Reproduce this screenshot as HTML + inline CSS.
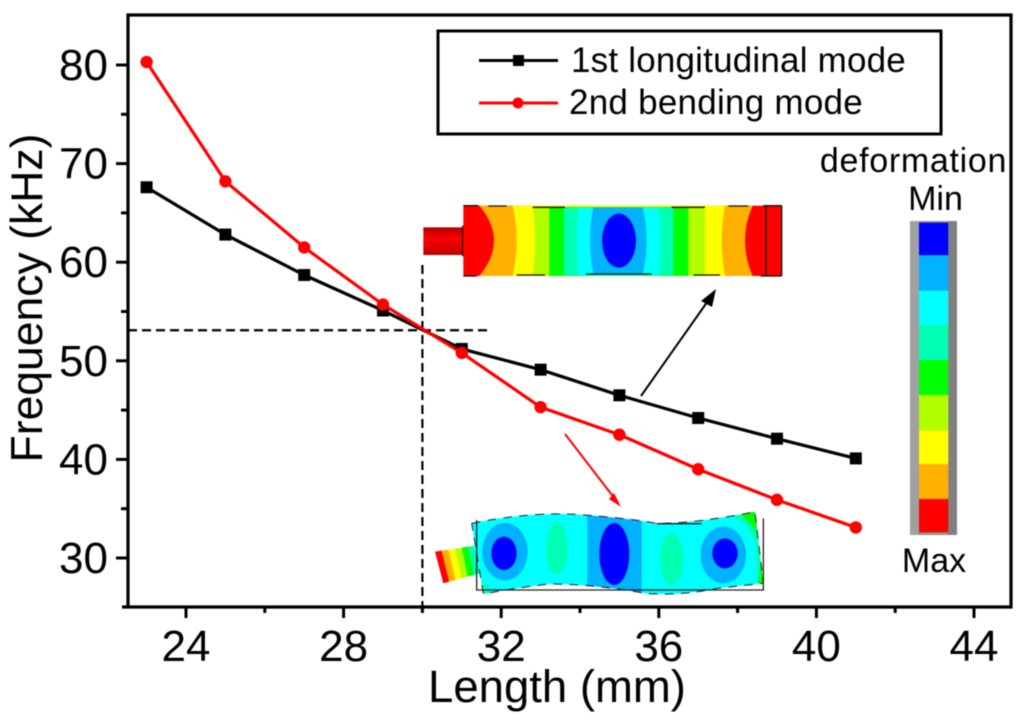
<!DOCTYPE html>
<html lang="en">
<head>
<meta charset="utf-8">
<title>Frequency vs Length</title>
<style>
html,body{margin:0;padding:0;background:#fff;width:1024px;height:725px;overflow:hidden}
svg{display:block;filter:blur(.5px)}
text{font-family:"Liberation Sans",sans-serif;fill:#000}
</style>
</head>
<body>
<svg id="chart" width="1024" height="725" viewBox="0 0 1024 725" xmlns="http://www.w3.org/2000/svg">
  <rect width="1024" height="725" fill="#fff"/>
  <defs>
    <clipPath id="bendClip">
      <path d="M125 55Q300 20 440 28Q600 40 680 55Q800 55 975 20L1000 235L860 250Q760 272 650 266Q500 238 360 237Q260 248 160 267Z"/>
    </clipPath>
    <linearGradient id="stubGrad" x1="0" y1="0" x2="0" y2="1">
      <stop offset="0" stop-color="#a00"/><stop offset=".4" stop-color="#f00"/><stop offset="1" stop-color="#b00"/>
    </linearGradient>
  </defs>

  <g id="longitudinal-inset" transform="translate(420 195) scale(.33333)">
    <rect x="10" y="97" width="120" height="83" fill="url(#stubGrad)"/>
    <rect x="126" y="92" width="5" height="92" fill="#222"/>
    <rect x="130" y="32" width="955" height="211" fill="#f00"/>
    <path fill="#ffb000" d="M178 32Q266 137 178 243L998 243Q952 137 998 32Z"/>
    <path fill="#ff0" d="M278 32Q302 137 278 243L915 243Q895 137 915 32Z"/>
    <path fill="#b2ff00" d="M338 36Q352 137 338 243L855 243Q855 137 855 36Z"/>
    <rect x="388" y="36" width="417" height="207" fill="#0f0"/>
    <rect x="432" y="38" width="328" height="203" fill="#00ffb2"/>
    <path fill="#0ff" d="M475 38Q465 137 475 241L715 241Q729 137 715 38Z"/>
    <path fill="#00b2ff" d="M520 38Q500 137 520 237L668 237Q692 137 668 38Z"/>
    <ellipse cx="597" cy="137" rx="51" ry="81" fill="#00f"/>
    <path fill="none" stroke="#111" stroke-width="4" d="M130 32H175M205 33H260M338 37H435M755 37H855M925 33H985M130 243H170M290 240H375M498 237H695M820 240H900M1022 243H1085M1085 32V243M1030 32H1085M1038 32V243"/>
  </g>

  <g id="bending-inset" transform="translate(430 505) scale(.33333)">
    <polygon fill="#f00" points="15,140 35,137 58,230 40,235"/>
    <polygon fill="#ffb000" points="35,137 55,134 77,225 58,230"/>
    <polygon fill="#ff0" points="55,134 75,131 95,220 77,225"/>
    <polygon fill="#b2ff00" points="75,131 95,128 113,215 95,220"/>
    <polygon fill="#0f0" points="95,128 115,125 132,210 113,215"/>
    <polygon fill="#00ffb2" points="115,125 135,122 150,205 132,210"/>
    <g clip-path="url(#bendClip)">
      <rect x="100" y="0" width="920" height="290" fill="#0ff"/>
      <polygon fill="#00ffb2" points="880,20 1010,10 1010,240 985,240 975,110 950,60"/>
      <polygon fill="#0f0" points="935,30 1000,10 1005,240 985,235 995,140 975,70"/>
      <polygon fill="#00ffb2" points="120,200 200,270 120,280"/>
      <ellipse cx="225" cy="140" rx="68" ry="86" fill="#00b2ff"/>
      <ellipse cx="222" cy="145" rx="38" ry="50" fill="#00f"/>
      <rect x="472" y="0" width="163" height="290" fill="#00b2ff"/>
      <ellipse cx="553" cy="147" rx="45" ry="93" fill="#00f"/>
      <ellipse cx="880" cy="150" rx="68" ry="85" fill="#00b2ff"/>
      <ellipse cx="885" cy="145" rx="38" ry="45" fill="#00f"/>
      <ellipse cx="380" cy="130" rx="32" ry="78" fill="#00ffb2"/>
      <ellipse cx="725" cy="163" rx="35" ry="78" fill="#00ffb2"/>
    </g>
    <path fill="none" stroke="#222" stroke-width="3" stroke-dasharray="26 22" d="M125 55Q300 20 440 28Q600 40 680 55Q800 55 975 20L1000 235L860 250Q760 272 650 266Q500 238 360 237Q260 248 160 267L125 55"/>
    <path fill="none" stroke="#222" stroke-width="4" d="M140 45V255H1000V40M680 56H815"/>
  </g>

  <g id="color-scale">
    <rect x="910" y="221" width="47" height="314" fill="#909090"/>
    <rect x="910" y="221" width="9" height="314" fill="#a0a0a0"/>
    <rect x="948" y="221" width="9" height="314" fill="#808080"/>
    <rect x="919" y="222.7" width="29.3" height="32.6" fill="#00f"/>
    <rect x="919" y="255.3" width="29.3" height="35.4" fill="#00b2ff"/>
    <rect x="919" y="290.7" width="29.3" height="34.3" fill="#0ff"/>
    <rect x="919" y="325" width="29.3" height="35" fill="#00ffb2"/>
    <rect x="919" y="360" width="29.3" height="35" fill="#0f0"/>
    <rect x="919" y="395" width="29.3" height="35.3" fill="#b2ff00"/>
    <rect x="919" y="430.3" width="29.3" height="34" fill="#ff0"/>
    <rect x="919" y="464.3" width="29.3" height="34.7" fill="#ffb000"/>
    <rect x="919" y="499" width="29.3" height="33.3" fill="#f00"/>
    <text x="913.5" y="172" font-size="34" letter-spacing=".7" text-anchor="middle">deformation</text>
    <text x="935.5" y="210" font-size="34" text-anchor="middle">Min</text>
    <text x="934" y="572" font-size="34" text-anchor="middle">Max</text>
  </g>

  <g id="axes"></g>
  <g id="series"></g>

  <g id="arrows">
    <line x1="641" y1="396" x2="710" y2="298" stroke="#000" stroke-width="2"/>
    <polygon fill="#000" points="716,289 712,307 701,301"/>
    <line x1="565" y1="434" x2="615" y2="499" stroke="#f00" stroke-width="2"/>
    <polygon fill="#f00" points="621,507 609,499 614,493"/>
  </g>

  <g id="legend">
    <rect x="438" y="31" width="503" height="103" fill="none" stroke="#000" stroke-width="3"/>
    <g>
      <line x1="479" y1="60.5" x2="558" y2="60.5" stroke="#000" stroke-width="3"/>
      <rect x="513" y="55" width="11" height="11" fill="#000"/>
      <text x="571" y="72" font-size="35" letter-spacing=".2">1st longitudinal mode</text>
    </g>
    <g>
      <line x1="479" y1="103" x2="558" y2="103" stroke="#f00" stroke-width="3"/>
      <circle cx="518" cy="103" r="5.5" fill="#f00"/>
      <text x="569" y="114" font-size="35" letter-spacing=".25">2nd bending mode</text>
    </g>
  </g>
</svg>

<script>
const lengths = [23, 25, 27, 29, 31, 33, 35, 37, 39, 41];
const longitudinalValues = [67.6, 62.8, 58.7, 55.1, 51.2, 49.1, 46.5, 44.2, 42.1, 40.1];
const bendingValues = [80.3, 68.2, 61.5, 55.7, 50.8, 45.3, 42.5, 39.0, 35.9, 33.1];
const xMajorTicks = [24, 28, 32, 36, 40, 44];
const xMinorTicks = [26, 30, 34, 38, 42];
const yMajorTicks = [30, 40, 50, 60, 70, 80];
const yMinorTicks = [35, 45, 55, 65, 75];
const crossingLength = [30];
const crossingFrequency = [53];

const NS = 'http://www.w3.org/2000/svg';
const plotLeft = 128, plotRight = 1011, plotTop = 15, plotBottom = 607;
function xScale(v) { return 186 + (v - 24) * 39.4; }
function yScale(v) { return 558 - (v - 30) * 9.86; }
function make(tag, attrs, parent) {
  const el = document.createElementNS(NS, tag);
  for (const k in attrs) el.setAttribute(k, attrs[k]);
  parent.appendChild(el);
  return el;
}

const axes = document.getElementById('axes');
const series = document.getElementById('series');

const frame = make('path', { d: 'M' + plotLeft + ' ' + plotBottom + 'V' + plotTop + 'H' + plotRight + 'V' + plotBottom + 'H' + (plotLeft - 6), fill: 'none', stroke: '#000', 'stroke-width': 3.2 }, axes);



xMajorTicks.forEach(function (v) {
  const tick = make('line', { x1: xScale(v), x2: xScale(v), y1: plotBottom, y2: plotBottom + 11, stroke: '#000', 'stroke-width': 3 }, axes);
  
  
  const label = make('text', { x: xScale(v), y: 661, 'font-size': 44, 'text-anchor': 'middle' }, axes);
  label.textContent = v;
  
  
});
xMinorTicks.forEach(function (v) {
  const tick = make('line', { x1: xScale(v), x2: xScale(v), y1: plotBottom, y2: plotBottom + 6, stroke: '#000', 'stroke-width': 3 }, axes);
  
  
});
yMajorTicks.forEach(function (v) {
  const tick = make('line', { x1: plotLeft - 12, x2: plotLeft, y1: yScale(v), y2: yScale(v), stroke: '#000', 'stroke-width': 3 }, axes);
  
  
  const label = make('text', { x: 108, y: yScale(v) + 15, 'font-size': 44, 'text-anchor': 'end' }, axes);
  label.textContent = v;
  
  
});
yMinorTicks.forEach(function (v) {
  const tick = make('line', { x1: plotLeft - 7, x2: plotLeft, y1: yScale(v), y2: yScale(v), stroke: '#000', 'stroke-width': 3 }, axes);
  
  
});

const xTitle = make('text', { x: 557, y: 702, 'font-size': 45.5, 'text-anchor': 'middle' }, axes);
xTitle.textContent = 'Length (mm)';



const yTitle = make('text', { x: 0, y: 0, 'font-size': 44.5, 'text-anchor': 'middle', transform: 'translate(42 298) rotate(-90)' }, axes);
yTitle.textContent = 'Frequency (kHz)';



const hGuide = make('line', { x1: plotLeft, x2: 488, y1: yScale(crossingFrequency[0]) - 1, y2: yScale(crossingFrequency[0]) - 1, stroke: '#000', 'stroke-width': 2.2, 'stroke-dasharray': '9 5' }, axes);


const vGuide = make('line', { x1: xScale(crossingLength[0]), x2: xScale(crossingLength[0]), y1: 265, y2: plotBottom, stroke: '#000', 'stroke-width': 2.2, 'stroke-dasharray': '9 5' }, axes);



function linePoints(values) {
  return values.map(function (v, i) { return xScale(lengths[i]) + ',' + yScale(v); }).join(' ');
}

const blackLine = make('polyline', { points: linePoints(longitudinalValues), fill: 'none', stroke: '#000', 'stroke-width': 3.2 }, series);


longitudinalValues.forEach(function (v, i) {
  const p = make('rect', { x: xScale(lengths[i]) - 6, y: yScale(v) - 6, width: 12, height: 12, fill: '#000' }, series);
  
  
});

const redLine = make('polyline', { points: linePoints(bendingValues), fill: 'none', stroke: '#f00', 'stroke-width': 3.2 }, series);


bendingValues.forEach(function (v, i) {
  const p = make('circle', { cx: xScale(lengths[i]), cy: yScale(v), r: 6.2, fill: '#f00' }, series);
  
  
});
</script>
</body>
</html>
